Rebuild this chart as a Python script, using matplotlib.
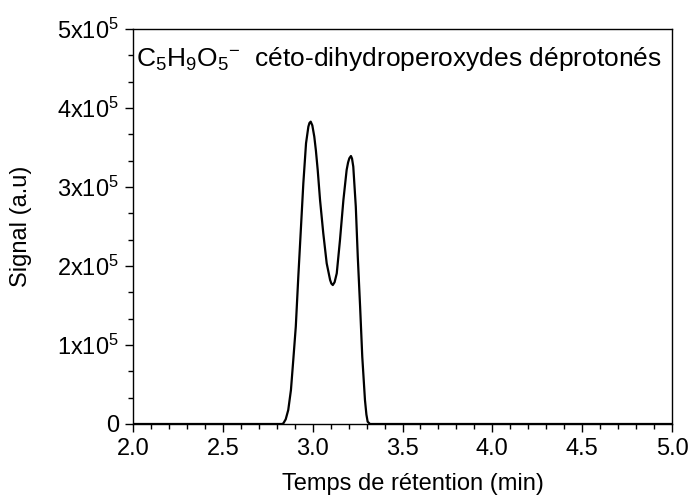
"""Chromatogram of C5H9O5- (deprotonated keto-dihydroperoxides)."""

import matplotlib

matplotlib.use("Agg")
import matplotlib.pyplot as plt  # noqa: E402
from matplotlib.ticker import FixedLocator, FuncFormatter, MultipleLocator  # noqa: E402

plt.rcParams["font.family"] = ["Liberation Sans", "DejaVu Sans"]
plt.rcParams["mathtext.fontset"] = "custom"
plt.rcParams["mathtext.rm"] = "Liberation Sans"
plt.rcParams["mathtext.it"] = "Liberation Sans:italic"
plt.rcParams["mathtext.default"] = "regular"

# retention time (min) and signal (a.u.)
time_min = [2.00, 2.83, 2.837, 2.850, 2.864, 2.879, 2.892, 2.906, 2.920, 2.935,
            2.948, 2.963, 2.976, 2.982, 2.989, 2.998, 3.009, 3.018, 3.028,
            3.041, 3.059, 3.078, 3.097, 3.104, 3.112, 3.122, 3.134, 3.152,
            3.171, 3.189, 3.197, 3.204, 3.213, 3.219, 3.226, 3.240, 3.251,
            3.264, 3.276, 3.291, 3.299, 3.306, 3.319, 5.00]
signal = [0, 0, 900, 6000, 17700, 43000, 81000, 123200, 186500, 249700,
          304700, 355300, 376300, 381000, 382700, 378000, 363700, 346000,
          321500, 283500, 241400, 203400, 182300, 177800, 175900, 179500,
          190700, 232900, 283500, 321500, 331000, 336300, 339200, 336000,
          325700, 275100, 211800, 148500, 85200, 30400, 12000, 2900, 0, 0]

x_ticks = [2.0, 2.5, 3.0, 3.5, 4.0, 4.5, 5.0]
y_ticks = [0, 1e5, 2e5, 3e5, 4e5, 5e5]
title = r"C$_5$H$_9$O$_5$$^{-}$  céto-dihydroperoxydes déprotonés"


def _sci(v, _pos):
    if v == 0:
        return "0"
    return rf"{v / 1e5:.0f}x10$^{{5}}$"


fig = plt.figure(figsize=(6.91, 4.98), dpi=100)
ax = fig.add_axes([0.1925, 0.1486, 0.78, 0.7932])
ax.plot(time_min, signal, color="black", lw=1.6,
        solid_joinstyle="round", solid_capstyle="round")

ax.set_xlim(2.0, 5.0)
ax.set_ylim(0, 5e5)
ax.xaxis.set_major_locator(FixedLocator(x_ticks))
ax.xaxis.set_minor_locator(MultipleLocator(0.1))
ax.yaxis.set_major_locator(FixedLocator(y_ticks))
ax.yaxis.set_minor_locator(MultipleLocator(1e5 / 3))
ax.xaxis.set_major_formatter(FuncFormatter(lambda v, p: f"{v:.1f}"))
ax.yaxis.set_major_formatter(FuncFormatter(_sci))
ax.tick_params(which="major", direction="out", length=6, width=1.0,
               labelsize=17, pad=4)
ax.tick_params(which="minor", direction="out", length=3.5, width=1.0)
for s in ax.spines.values():
    s.set_linewidth(1.0)

ax.set_xlabel("Temps de rétention (min)", fontsize=17)
ax.xaxis.set_label_coords(0.52, -0.125)
ax.set_ylabel("Signal (a.u)", fontsize=17)
ax.yaxis.set_label_coords(-0.187, 0.5)
ax.text(0.006, 0.906, title, transform=ax.transAxes, ha="left",
        va="baseline", fontsize=19)

fig.savefig("out.png", dpi=100)
